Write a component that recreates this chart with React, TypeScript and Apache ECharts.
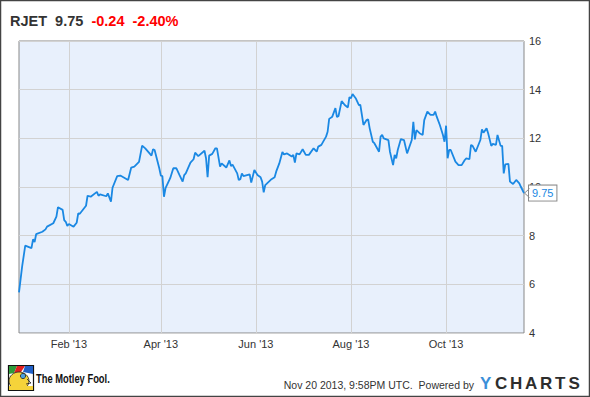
import React, { useEffect, useRef } from "react";
import * as echarts from "echarts";

const ticker = "RJET";
const lastPrice = "9.75";
const change = "-0.24";
const changePct = "-2.40%";
const stamp = "Nov 20 2013, 9:58PM UTC.  Powered by";

const xMin = "2012-12-31";
const xMax = "2013-11-20";
const xTickDates = ["2013-02-01", "2013-04-01", "2013-06-01", "2013-08-01", "2013-10-01"];
const MONTHS = ["Jan", "Feb", "Mar", "Apr", "May", "Jun", "Jul", "Aug", "Sep", "Oct", "Nov", "Dec"];
const yMin = 4;
const yMax = 16;
const yStep = 2;

const dates = [
  "2012-12-31", "2013-01-02", "2013-01-04", "2013-01-08", "2013-01-09", "2013-01-10", "2013-01-11", "2013-01-15", "2013-01-17", "2013-01-18", "2013-01-22", "2013-01-24", "2013-01-25", "2013-01-28", "2013-01-29", "2013-01-30", "2013-01-31",
  "2013-02-01", "2013-02-04", "2013-02-06", "2013-02-07", "2013-02-08", "2013-02-12", "2013-02-13", "2013-02-15", "2013-02-19", "2013-02-20", "2013-02-21", "2013-02-25", "2013-02-26", "2013-02-28",
  "2013-03-01", "2013-03-04", "2013-03-06", "2013-03-11", "2013-03-13", "2013-03-15", "2013-03-18", "2013-03-20", "2013-03-22", "2013-03-26", "2013-03-27", "2013-03-28", "2013-03-31",
  "2013-04-01", "2013-04-02", "2013-04-03", "2013-04-04", "2013-04-07", "2013-04-09", "2013-04-11", "2013-04-13", "2013-04-15", "2013-04-16", "2013-04-17", "2013-04-20", "2013-04-22", "2013-04-23", "2013-04-25", "2013-04-29", "2013-04-30",
  "2013-05-01", "2013-05-02", "2013-05-04", "2013-05-06", "2013-05-07", "2013-05-09", "2013-05-10", "2013-05-13", "2013-05-15", "2013-05-16", "2013-05-17", "2013-05-20", "2013-05-21", "2013-05-22", "2013-05-23", "2013-05-24", "2013-05-28", "2013-05-29", "2013-05-31",
  "2013-06-02", "2013-06-04", "2013-06-05", "2013-06-06", "2013-06-07", "2013-06-11", "2013-06-13", "2013-06-14", "2013-06-16", "2013-06-18", "2013-06-19", "2013-06-21", "2013-06-24", "2013-06-25", "2013-06-26", "2013-06-27", "2013-06-29",
  "2013-07-01", "2013-07-03", "2013-07-05", "2013-07-08", "2013-07-10", "2013-07-11", "2013-07-13", "2013-07-16", "2013-07-17", "2013-07-18", "2013-07-20", "2013-07-22", "2013-07-23", "2013-07-24", "2013-07-26", "2013-07-28", "2013-07-30", "2013-07-31",
  "2013-08-01", "2013-08-02", "2013-08-04", "2013-08-06", "2013-08-07", "2013-08-09", "2013-08-11", "2013-08-12", "2013-08-13", "2013-08-15", "2013-08-16", "2013-08-19", "2013-08-20", "2013-08-21", "2013-08-22", "2013-08-25", "2013-08-26", "2013-08-28", "2013-08-29", "2013-08-30", "2013-08-31",
  "2013-09-02", "2013-09-04", "2013-09-06", "2013-09-09", "2013-09-10", "2013-09-11", "2013-09-12", "2013-09-14", "2013-09-16", "2013-09-17", "2013-09-19", "2013-09-21", "2013-09-23", "2013-09-24", "2013-09-25", "2013-09-27", "2013-09-29", "2013-09-30",
  "2013-10-01", "2013-10-02", "2013-10-03", "2013-10-04", "2013-10-07", "2013-10-09", "2013-10-11", "2013-10-13", "2013-10-14", "2013-10-16", "2013-10-17", "2013-10-18", "2013-10-20", "2013-10-23", "2013-10-24", "2013-10-25", "2013-10-27", "2013-10-28", "2013-10-30", "2013-10-31",
  "2013-11-02", "2013-11-03", "2013-11-05", "2013-11-06", "2013-11-07", "2013-11-08", "2013-11-10", "2013-11-11", "2013-11-13", "2013-11-15", "2013-11-17", "2013-11-18", "2013-11-20",
];

const prices = [
  5.67, 6.73, 7.59, 7.49, 7.85, 7.74, 8.06, 8.16, 8.26, 8.37, 8.51, 8.78, 9.17, 9.06, 8.64, 8.57, 8.4,
  8.48, 8.37, 8.53, 8.92, 8.9, 9.23, 9.64, 9.6, 9.8, 9.64, 9.7, 9.62, 9.74, 9.4,
  9.97, 10.45, 10.47, 10.29, 10.8, 10.84, 11.03, 11.7, 11.59, 11.29, 11.55, 11.52, 10.77,
  10.47, 10.45, 9.6, 9.95, 10.36, 10.77, 10.77, 10.49, 10.22, 10.49, 10.56, 11.0, 11.14, 11.41, 11.27, 11.49, 11.18,
  10.4, 11.29, 11.36, 11.59, 11.59, 10.84, 10.97, 10.8, 11.09, 10.86, 10.92, 10.56, 10.29, 10.32, 10.56, 10.45, 10.52, 10.18, 10.7,
  10.49, 10.4, 10.22, 9.78, 10.08, 10.32, 10.4, 10.63, 10.97, 11.44, 11.34, 11.38, 11.25, 11.32, 11.0, 11.38, 11.34,
  11.55, 11.32, 11.32, 11.59, 11.45, 11.66, 11.73, 12.07, 12.27, 12.8, 12.89, 13.24, 12.87, 12.92, 13.53, 13.37, 13.27, 13.69,
  13.65, 13.82, 13.65, 13.37, 13.37, 12.55, 12.75, 12.78, 12.41, 11.86, 11.8, 11.45, 12.07, 12.14, 12.0, 11.93, 11.45, 10.9, 11.32, 11.18, 11.52,
  11.97, 11.93, 11.38, 11.93, 12.68, 11.96, 12.34, 12.21, 12.14, 12.75, 13.1, 12.96, 12.96, 13.1, 12.89, 12.55, 12.14, 11.86,
  12.52, 11.18, 11.52, 11.52, 11.04, 10.9, 10.9, 11.11, 11.18, 11.14, 11.73, 11.69, 11.45, 11.93, 12.37, 12.23, 12.41, 12.21, 11.69, 11.77,
  11.73, 12.14, 11.69, 11.69, 10.56, 10.93, 10.95, 10.22, 10.12, 10.29, 10.15, 10.01, 9.75,
];

const ts = (s: string) => {
  const [y, m, d] = s.split("-").map(Number);
  return new Date(y, m - 1, d).getTime();
};

const LINE = "#1a88e3";
const FONT = "'Liberation Sans', Arial, sans-serif";

export default function App() {
  const ref = useRef<HTMLDivElement>(null);

  useEffect(() => {
    document.body.style.margin = "0";
    if (!ref.current) return;
    const chart = echarts.init(ref.current, null, { renderer: "svg" });
    const data = dates.map((d, i) => [ts(d), prices[i]]);
    const tickTs = xTickDates.map(ts);

    const yLetters = ["Y", "C", "H", "A", "R", "T", "S"];
    const yLetterX = [480, 495, 510, 525, 540, 555, 568.5];

    const baseGraphic: any[] = [
      {
        type: "rect",
        shape: { x: 0.5, y: 0.5, width: 589, height: 396 },
        style: { fill: "none", stroke: "#444", lineWidth: 1.5 },
        silent: true,
      },
      {
        type: "text",
        x: 10,
        y: 21,
        style: {
          text: `{a|${ticker}  ${lastPrice}}  {b|${change}  ${changePct}}`,
          verticalAlign: "middle",
          font: `bold 14.5px ${FONT}`,
          rich: {
            a: { fontSize: 14.5, fontWeight: "bold", fill: "#333", fontFamily: FONT },
            b: { fontSize: 14.5, fontWeight: "bold", fill: "#ff0000", fontFamily: FONT },
          },
        },
      },
      {
        type: "group",
        children: [
          { type: "rect", shape: { x: 8.5, y: 365.5, width: 25, height: 25 }, style: { fill: "#fff", stroke: "#111", lineWidth: 1.2 } },
          { type: "polygon", shape: { points: [[9, 366], [17, 366], [14, 373], [9, 374]] }, style: { fill: "#2e9a3a" } },
          { type: "polygon", shape: { points: [[17, 366], [25, 366], [21, 372], [14, 373]] }, style: { fill: "#e02020" } },
          { type: "polygon", shape: { points: [[25, 366], [33, 366], [33, 374], [23, 372]] }, style: { fill: "#2060c8" } },
          { type: "ellipse", shape: { cx: 19, cy: 381, rx: 10, ry: 9 }, style: { fill: "#f5d33a", stroke: "#222", lineWidth: 0.8 } },
          { type: "circle", shape: { cx: 23, cy: 376, r: 2.6 }, style: { fill: "#4aa0e0", stroke: "#222", lineWidth: 0.8 } },
          { type: "polyline", shape: { points: [[27, 379], [31, 383], [26, 384]] }, style: { stroke: "#222", lineWidth: 0.8, fill: "none" } },
          { type: "rect", shape: { x: 9, y: 386, width: 24, height: 4 }, style: { fill: "#f5d33a" } },
        ],
      },
      {
        type: "text",
        x: 36,
        y: 378,
        scaleX: 0.72,
        style: { text: "The Motley Fool.", font: `bold 13px ${FONT}`, fill: "#111", verticalAlign: "middle" },
      },
      {
        type: "text",
        x: 474,
        y: 385,
        style: { text: stamp, font: `10.5px ${FONT}`, fill: "#333", verticalAlign: "middle", align: "right" },
      },
      ...yLetters.map((ch, i) => ({
        type: "text",
        x: yLetterX[i],
        y: 383,
        style: {
          text: ch,
          font: `bold 17px ${FONT}`,
          fill: i === 0 ? "#3b8fd9" : "#2d2d2d",
          verticalAlign: "middle",
        },
      })),
    ];

    chart.setOption({
      animation: false,
      grid: {
        left: 19,
        right: 66,
        top: 41,
        bottom: 64,
        show: true,
        backgroundColor: "#e8f0fc",
        borderColor: "#888",
        borderWidth: 1,
      },
      xAxis: {
        type: "value",
        min: ts(xMin),
        max: ts(xMax),
        axisLine: { show: false },
        axisTick: { show: false, customValues: tickTs },
        axisLabel: {
          customValues: tickTs,
          color: "#333",
          fontSize: 11,
          fontFamily: FONT,
          margin: 5,
          formatter: (v: number) => {
            const d = new Date(v);
            return `${MONTHS[d.getMonth()]} '${String(d.getFullYear()).slice(2)}`;
          },
        },
        splitLine: { show: true, lineStyle: { color: "#d2d2d2", width: 1 } },
      },
      yAxis: {
        type: "value",
        position: "right",
        min: yMin,
        max: yMax,
        interval: yStep,
        axisLine: { show: false },
        axisTick: { show: false },
        axisLabel: { color: "#333", fontSize: 11, fontFamily: FONT, margin: 5 },
        splitLine: { show: true, lineStyle: { color: "#d2d2d2", width: 1 } },
      },
      series: [
        {
          type: "line",
          data,
          showSymbol: false,
          symbol: "none",
          lineStyle: { color: LINE, width: 1.8 },
          endLabel: {
            show: true,
            formatter: (p: any) => Number(p.value[1]).toFixed(2),
            color: LINE,
            fontSize: 11,
            fontFamily: FONT,
            backgroundColor: "#fff",
            borderColor: "#888",
            borderWidth: 1,
            padding: [2, 3, 2, 3],
            distance: 5,
          },
        },
      ],
      graphic: baseGraphic,
    });

    const last = data[data.length - 1];
    const [px, py] = chart.convertToPixel({ gridIndex: 0 }, last) as number[];
    chart.setOption({
      graphic: [
        ...baseGraphic,
        {
          type: "polyline",
          z: 100,
          shape: { points: [[px + 5.5, py - 4.5], [px + 0.5, py], [px + 5.5, py + 4.5]] },
          style: { stroke: "#888", lineWidth: 1, fill: "none" },
        },
      ],
    });

    return () => chart.dispose();
  }, []);

  return <div ref={ref} style={{ width: 590, height: 397 }} />;
}
